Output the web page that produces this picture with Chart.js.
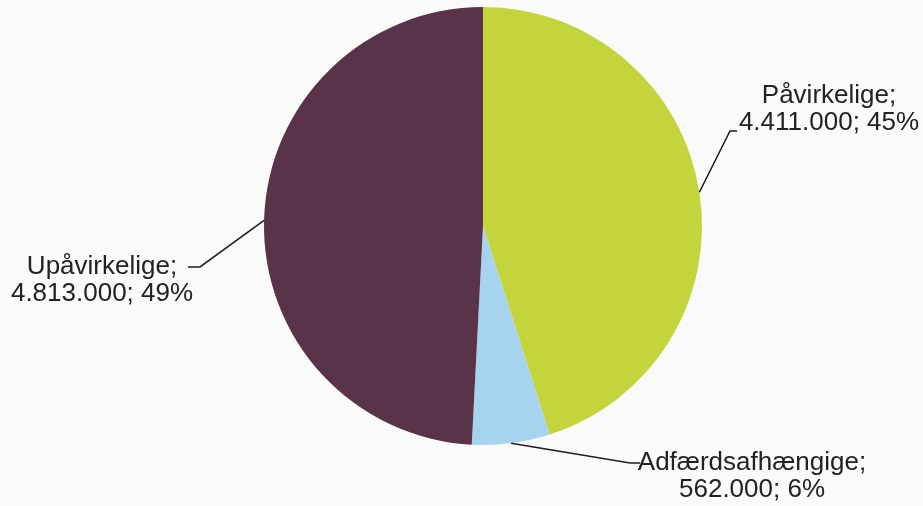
<!DOCTYPE html>
<html>
<head>
<meta charset="utf-8">
<script src="https://cdn.jsdelivr.net/npm/chart.js@4"></script>
<style>
  html, body { margin: 0; padding: 0; background: #fafaf8; overflow: hidden; }
  canvas { display: block; }
</style>
</head>
<body>
<canvas id="pie" width="923" height="506"></canvas>
<script>
// data
const categories = ["Påvirkelige", "Adfærdsafhængige", "Upåvirkelige"];
const values = [4411000, 562000, 4813000];
const colors = ["#c3d43c", "#a6d3ee", "#593449"];

// label text centres and leader elbows
const labelPos = [
    { x: 829, y: 96, elbow: [730, 131], tick: [737, 131] },
    { x: 752, y: 463, elbow: [630, 463], tick: [640, 463] },
    { x: 102, y: 267, elbow: [200, 267], tick: [188, 267] }
];

function fmt(n) {
    return String(n).replace(/\B(?=(\d{3})+(?!\d))/g, ".");
}

const total = values.reduce((a, b) => a + b, 0);

const leaderLabels = {
    id: "leaderLabels",
    afterDatasetsDraw(chart) {
        const ctx = chart.ctx;
        const meta = chart.getDatasetMeta(0);
        ctx.save();
        meta.data.forEach((arc, i) => {
            const p = arc.getProps(["x", "y", "startAngle", "endAngle", "outerRadius"], true);
            const mid = (p.startAngle + p.endAngle) / 2;
            const sx = p.x + Math.cos(mid) * p.outerRadius;
            const sy = p.y + Math.sin(mid) * p.outerRadius;
            const lp = labelPos[i];
            ctx.strokeStyle = "#1e1e1e";
            ctx.lineWidth = 1.6;
            ctx.beginPath();
            ctx.moveTo(sx, sy);
            ctx.lineTo(lp.elbow[0], lp.elbow[1]);
            ctx.lineTo(lp.tick[0], lp.tick[1]);
            ctx.stroke();

            const pct = Math.round(values[i] / total * 100);
            ctx.fillStyle = "#222";
            ctx.font = "26px 'Liberation Sans', Arial, sans-serif";
            ctx.textAlign = "center";
            ctx.textBaseline = "middle";
            ctx.fillText(categories[i] + ";", lp.x, lp.y);
            ctx.fillText(fmt(values[i]) + "; " + pct + "%", lp.x, lp.y + 27);
        });
        ctx.restore();
    }
};

new Chart(document.getElementById("pie"), {
    type: "pie",
    data: {
        labels: categories,
        datasets: [{
            data: values,
            backgroundColor: colors,
            borderWidth: 0
        }]
    },
    options: {
        responsive: false,
        animation: false,
        layout: {
            padding: { left: 264, right: 221, top: 7, bottom: 61 }
        },
        plugins: {
            legend: { display: false },
            tooltip: { enabled: false }
        }
    },
    plugins: [leaderLabels]
});
</script>
</body>
</html>
